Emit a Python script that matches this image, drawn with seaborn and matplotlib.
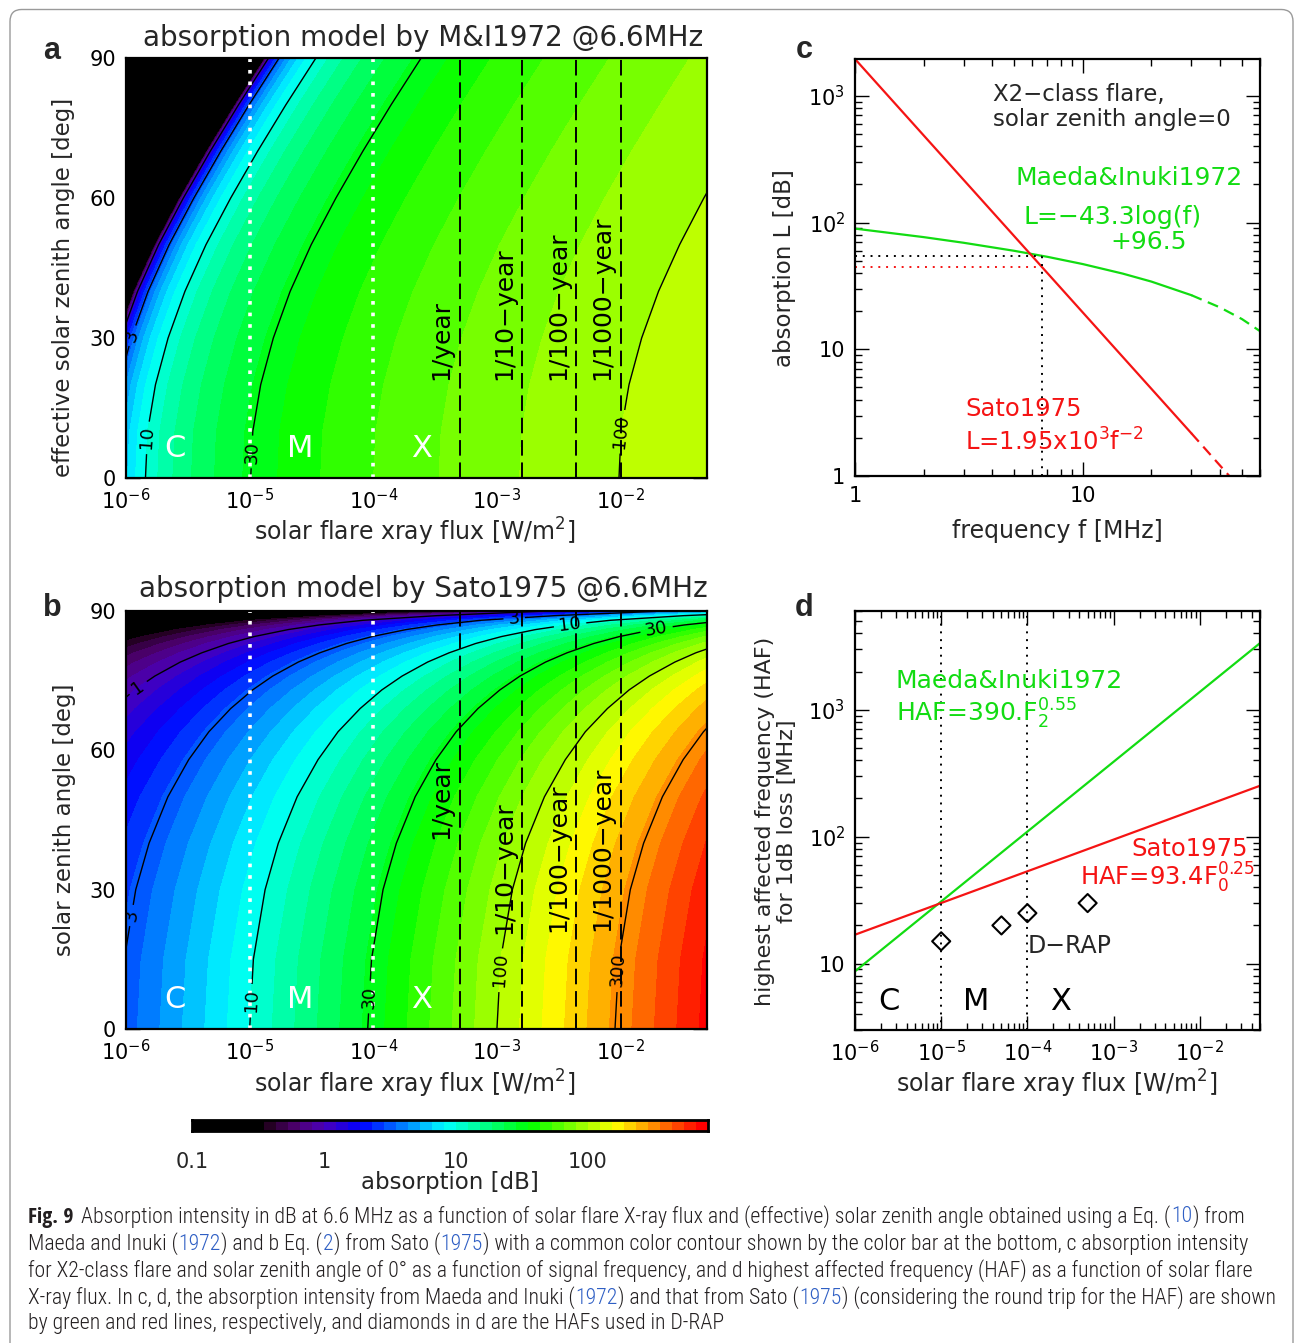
import numpy as np
import matplotlib
matplotlib.use("Agg")
import matplotlib.pyplot as plt
import seaborn as sns
from matplotlib.colors import ListedColormap, BoundaryNorm
from matplotlib.ticker import FixedLocator, FuncFormatter, LogLocator, NullFormatter
from matplotlib.patches import FancyBboxPatch
import matplotlib.transforms as mtransforms

# ------------------------------------------------------------------ data
# panel a : Maeda & Inuki (1972) absorption [dB] at 6.6 MHz (rows: zenith, cols: flux)
flux_grid = [1e-6, 1e-5, 1e-4, 1e-3, 1e-2, 5e-2]
zenith_mi = [0, 10, 20, 30, 40, 50, 60, 70, 80, 90]
absorption_mi = [
    [6.3, 29.8, 53.3, 76.8, 100.3, 116.8],
    [5.9, 29.4, 52.9, 76.4, 99.9, 116.3],
    [4.4, 27.9, 51.4, 74.9, 98.4, 114.8],
    [2.0, 25.5, 49.0, 72.5, 96.0, 112.4],
    [-1.2, 22.3, 45.8, 69.3, 92.8, 109.2],
    [-5.2, 18.3, 41.8, 65.3, 88.8, 105.2],
    [-9.9, 13.6, 37.1, 60.6, 84.1, 100.6],
    [-15.0, 8.5, 32.0, 55.5, 79.0, 95.5],
    [-20.4, 3.1, 26.6, 50.1, 73.6, 90.0],
    [-26.1, -2.6, 20.9, 44.4, 67.9, 84.4],
]
# panel b : Sato (1975) absorption [dB] at 6.6 MHz
zenith_sato = [0, 15, 30, 40, 50, 58, 64, 69, 73, 76, 79, 81, 83, 84.5, 86, 87, 88, 89, 90]
absorption_sato = [
    [3.16, 10.0, 31.6, 100.0, 316.0, 708.0],
    [3.05, 9.66, 30.5, 96.6, 305.0, 684.0],
    [2.74, 8.66, 27.4, 86.6, 274.0, 613.0],
    [2.42, 7.66, 24.2, 76.6, 242.0, 542.0],
    [2.03, 6.43, 20.3, 64.3, 203.0, 455.0],
    [1.67, 5.30, 16.7, 53.0, 167.0, 375.0],
    [1.39, 4.38, 13.9, 43.8, 139.0, 310.0],
    [1.13, 3.58, 11.3, 35.8, 113.0, 254.0],
    [0.924, 2.92, 9.24, 29.2, 92.4, 207.0],
    [0.764, 2.42, 7.64, 24.2, 76.4, 171.0],
    [0.603, 1.91, 6.03, 19.1, 60.3, 135.0],
    [0.494, 1.56, 4.94, 15.6, 49.4, 111.0],
    [0.385, 1.22, 3.85, 12.2, 38.5, 86.3],
    [0.303, 0.958, 3.03, 9.58, 30.3, 67.8],
    [0.221, 0.698, 2.21, 6.98, 22.1, 49.4],
    [0.165, 0.523, 1.65, 5.23, 16.5, 37.0],
    [0.110, 0.349, 1.10, 3.49, 11.0, 24.7],
    [0.055, 0.175, 0.552, 1.75, 5.52, 12.4],
    [0.020, 0.063, 0.20, 0.63, 2.0, 4.5],
]
contour_levels = [1, 3, 10, 30, 100, 300]
class_bounds = [1e-5, 1e-4]
class_names = ["C", "M", "X"]
class_label_flux = [2.5e-6, 2.55e-5, 2.45e-4]
recurrence_flux = [5e-4, 1.6e-3, 4.4e-3, 1e-2]
recurrence_names = ["1/year", "1/10\u2212year", "1/100\u2212year", "1/1000\u2212year"]

# panel c : absorption vs frequency (X2 flare, zenith 0)
freq_mi = [1, 2, 3, 5, 7, 10, 15, 20, 30]
absorb_mi = [89.5, 76.7, 69.2, 59.8, 53.6, 47.0, 39.5, 34.2, 26.7]
freq_mi_ext = [30, 40, 50, 60]
absorb_mi_ext = [26.7, 21.4, 17.3, 13.9]
freq_sato = [1, 30]
absorb_sato = [1950, 2.17]
freq_sato_ext = [30, 44]
absorb_sato_ext = [2.17, 1.0]
f_operating = 6.6
absorb_mi_op = 54.7
absorb_sato_op = 44.8

# panel d : highest affected frequency
flux_line = [1e-6, 5e-2]
haf_mi = [8.7, 3350]
haf_sato = [16.9, 252]
drap_flux = [1e-5, 5e-5, 1e-4, 5e-4]
drap_haf = [15, 20, 25, 30]

# ------------------------------------------------------------------ style
sns.set_theme(style="ticks")
plt.rcParams["font.family"] = ["DejaVu Sans"]
plt.rcParams["mathtext.fontset"] = "dejavusans"
plt.rcParams["axes.unicode_minus"] = True

W, H = 1295, 1343
fig = plt.figure(figsize=(W / 100, H / 100), dpi=100)
fig.patch.set_facecolor("white")

def rect(l, t, r, b):
    return [l / W, 1 - b / H, (r - l) / W, (b - t) / H]

def ftext(x, y, s, **kw):
    return fig.text(x / W, 1 - y / H, s, **kw)

GREEN = "#12dc12"
RED = "#f51414"

# colour table (IDL rainbow+black like), 11 bands per decade from 0.1 dB
levels = 10 ** (-1 + np.arange(44) / 11)
band_mid = -1 + (np.arange(43) + 0.5) / 11
anchor_pos = [-1.0, -0.47, -0.46, -0.2, 0.0, 0.28, 0.92, 1.56, 2.21, 2.85, 3.0]
anchor_r = [0, 0, 0.10, 0.31, 0.29, 0, 0, 0, 1, 1, 1]
anchor_g = [0, 0, 0, 0, 0, 0, 1, 1, 1, 0, 0]
anchor_b = [0, 0, 0.06, 0.45, 0.72, 1, 1, 0, 0, 0, 0]
band_colors = np.column_stack([np.interp(band_mid, anchor_pos, ch)
                               for ch in (anchor_r, anchor_g, anchor_b)])
cmap = ListedColormap(band_colors).with_extremes(under="black", over="red")
norm_db = BoundaryNorm(levels, 43)
norm_log = BoundaryNorm(np.log10(levels), 43)

def box(ax, lw=1.6):
    for s in ax.spines.values():
        s.set_visible(True)
        s.set_linewidth(lw)
        s.set_color("black")
    ax.tick_params(which="both", direction="in", top=True, right=True,
                   colors="black", labelsize=15)
    ax.tick_params(which="major", length=10, width=1.0, pad=7)
    ax.tick_params(which="minor", length=5, width=1.0)

def flux_axis_log10(ax):
    ax.set_xlim(np.log10(1e-6), np.log10(5e-2))
    ax.xaxis.set_major_locator(FixedLocator([-6, -5, -4, -3, -2]))
    minors = [np.log10(k * 10.0 ** n) for n in range(-6, -1) for k in range(2, 10)
              if k * 10.0 ** n < 5e-2]
    ax.xaxis.set_minor_locator(FixedLocator(minors))
    ax.xaxis.set_major_formatter(FuncFormatter(lambda v, p: r"$10^{%d}$" % round(v)))
    ax.set_ylim(0, 90)
    ax.set_yticks([0, 30, 60, 90])
    ax.set_yticks([], minor=True)

def overlays(ax, text_start_angles):
    for fb in class_bounds:
        ax.axvline(np.log10(fb), color="white", lw=2.6, linestyle=(0, (1, 2.2)))
    for fr in recurrence_flux:
        ax.axvline(np.log10(fr), color="black", lw=1.4, linestyle=(0, (8, 3.5)))
    off = mtransforms.offset_copy(ax.transData, fig=fig, x=-6, y=0, units="dots")
    for fr, name, ang in zip(recurrence_flux, recurrence_names, text_start_angles):
        ax.text(np.log10(fr), ang, name, rotation=90, ha="right", va="bottom",
                fontsize=18, color="black", transform=off)
    for fl, name in zip(class_label_flux, class_names):
        ax.text(np.log10(fl), 6.3, name, color="white", fontsize=22,
                ha="center", va="center")

# ------------------------------------------------------------------ panel a
ax_a = fig.add_axes(rect(126, 58, 707, 478))
LXa, LYa = np.meshgrid(np.log10(flux_grid), zenith_mi)
Za = np.array(absorption_mi)
ax_a.contourf(LXa, LYa, Za, levels=levels, cmap=cmap, norm=norm_db, extend="both")
cs_a = ax_a.contour(LXa, LYa, Za, levels=contour_levels, colors="black", linewidths=1.0)
ax_a.clabel(cs_a, fmt=lambda v: f"{v:g}", fontsize=13, inline=True,
            manual=[(-5.95, 30.5), (-5.82, 8.6), (-5.0, 5.6), (-2.05, 10)])
flux_axis_log10(ax_a)
box(ax_a)
overlays(ax_a, [21, 21, 21, 21])

# ------------------------------------------------------------------ panel b
ax_b = fig.add_axes(rect(126, 611, 707, 1029))
LXb, LYb = np.meshgrid(np.log10(flux_grid), zenith_sato)
Zb = np.log10(np.array(absorption_sato))
ax_b.contourf(LXb, LYb, Zb, levels=np.log10(levels), cmap=cmap, norm=norm_log, extend="both")
cs_b = ax_b.contour(LXb, LYb, Zb, levels=np.log10(contour_levels), colors="black", linewidths=1.0)
ax_b.clabel(cs_b, fmt=lambda v: f"{10 ** v:.0f}", fontsize=13, inline=True,
            manual=[(-5.89, 73), (-5.97, 24.5), (-2.86, 88.3), (-5.0, 6.2), (-2.41, 87.4),
                    (-4.04, 6.9), (-1.71, 86.2), (-3.0, 12.7), (-2.03, 12.7)])
flux_axis_log10(ax_b)
box(ax_b)
overlays(ax_b, [40.9, 20.4, 20.8, 21])

# ------------------------------------------------------------------ panel c
ax_c = fig.add_axes(rect(855, 59, 1260, 476))
ax_c.set_xscale("log")
ax_c.set_yscale("log")
sns.lineplot(x=freq_mi, y=absorb_mi, ax=ax_c, color=GREEN, lw=1.6, sort=False, estimator=None)
sns.lineplot(x=freq_mi_ext, y=absorb_mi_ext, ax=ax_c, color=GREEN, lw=1.6,
             linestyle=(0, (5, 3)), sort=False, estimator=None)
sns.lineplot(x=freq_sato, y=absorb_sato, ax=ax_c, color=RED, lw=1.6, sort=False, estimator=None)
sns.lineplot(x=freq_sato_ext, y=absorb_sato_ext, ax=ax_c, color=RED, lw=1.6,
             linestyle=(0, (5, 3)), sort=False, estimator=None)
sns.lineplot(x=[1, f_operating], y=[absorb_mi_op, absorb_mi_op], ax=ax_c, color="black",
             lw=1.4, linestyle=(0, (1, 3)), sort=False, estimator=None)
sns.lineplot(x=[1, f_operating], y=[absorb_sato_op, absorb_sato_op], ax=ax_c, color=RED,
             lw=1.4, linestyle=(0, (1, 3)), sort=False, estimator=None)
sns.lineplot(x=[f_operating, f_operating], y=[1, absorb_mi_op], ax=ax_c, color="black",
             lw=1.4, linestyle=(0, (1, 3)), sort=False, estimator=None)
ax_c.set_xlim(1, 60)
ax_c.set_ylim(1, 1950)
ax_c.xaxis.set_major_locator(FixedLocator([1, 10]))
ax_c.xaxis.set_minor_locator(LogLocator(base=10, subs=np.arange(2, 10), numticks=20))
ax_c.xaxis.set_major_formatter(FuncFormatter(lambda v, p: f"{v:g}"))
ax_c.xaxis.set_minor_formatter(NullFormatter())
ax_c.yaxis.set_major_locator(FixedLocator([1, 10, 100, 1000]))
ax_c.yaxis.set_minor_locator(LogLocator(base=10, subs=np.arange(2, 10), numticks=20))
ax_c.yaxis.set_major_formatter(FuncFormatter(
    lambda v, p: f"{v:g}" if v < 50 else r"$10^{%d}$" % round(np.log10(v))))
ax_c.yaxis.set_minor_formatter(NullFormatter())
ax_c.set_xlabel("")
ax_c.set_ylabel("")
box(ax_c)

# ------------------------------------------------------------------ panel d
ax_d = fig.add_axes(rect(855, 611, 1260, 1030))
ax_d.set_xscale("log")
ax_d.set_yscale("log")
sns.lineplot(x=flux_line, y=haf_mi, ax=ax_d, color=GREEN, lw=1.6, sort=False, estimator=None)
sns.lineplot(x=flux_line, y=haf_sato, ax=ax_d, color=RED, lw=1.6, sort=False, estimator=None)
sns.scatterplot(x=drap_flux, y=drap_haf, ax=ax_d, marker="D", s=85,
                facecolor="none", edgecolor="black", linewidth=1.5, zorder=5)
for fb in class_bounds:
    ax_d.axvline(fb, color="black", lw=1.4, linestyle=(0, (1, 3)))
ax_d.set_xlim(1e-6, 5e-2)
ax_d.set_ylim(3, 6000)
ax_d.xaxis.set_major_locator(FixedLocator([1e-6, 1e-5, 1e-4, 1e-3, 1e-2]))
ax_d.xaxis.set_minor_locator(LogLocator(base=10, subs=np.arange(2, 10), numticks=30))
ax_d.xaxis.set_major_formatter(FuncFormatter(lambda v, p: r"$10^{%d}$" % round(np.log10(v))))
ax_d.xaxis.set_minor_formatter(NullFormatter())
ax_d.yaxis.set_major_locator(FixedLocator([10, 100, 1000]))
ax_d.yaxis.set_minor_locator(LogLocator(base=10, subs=np.arange(2, 10), numticks=20))
ax_d.yaxis.set_major_formatter(FuncFormatter(
    lambda v, p: f"{v:g}" if v < 50 else r"$10^{%d}$" % round(np.log10(v))))
ax_d.yaxis.set_minor_formatter(NullFormatter())
ax_d.set_xlabel("")
ax_d.set_ylabel("")
for fl, name in zip(class_label_flux, class_names):
    ax_d.text(fl, 5.0, name, color="black", fontsize=22, ha="center", va="center")
box(ax_d)

# ------------------------------------------------------------------ colour bar
cax = fig.add_axes(rect(192, 1120, 708, 1131))
band_values = np.sqrt(levels[:-1] * levels[1:])
cax.pcolormesh(np.log10(levels), [0, 1], band_values[None, :], cmap=cmap, norm=norm_db)
cax.set_xlim(np.log10(levels[0]), np.log10(levels[-1]))
cax.set_ylim(0, 1)
cax.set_yticks([])
cax.set_xticks([-1, 0, 1, 2])
cax.set_xticklabels(["0.1", "1", "10", "100"])
cax.tick_params(axis="x", length=0, pad=15, labelsize=15)
for s in cax.spines.values():
    s.set_linewidth(2)
    s.set_color("black")

# ------------------------------------------------------------------ texts
ftext(423, 46.5, "absorption model by M&I1972 @6.6MHz", ha="center", va="baseline", fontsize=20)
ftext(423, 597, "absorption model by Sato1975 @6.6MHz", ha="center", va="baseline", fontsize=20)
ftext(64, 287, "effective solar zenith angle [deg]", rotation=90, ha="center", va="center", fontsize=16.5)
ftext(65, 820, "solar zenith angle [deg]", rotation=90, ha="center", va="center", fontsize=16.5)
ftext(415, 532, r"solar flare xray flux [W/m$^2$]", ha="center", va="center", fontsize=17)
ftext(415, 1084, r"solar flare xray flux [W/m$^2$]", ha="center", va="center", fontsize=17)
ftext(785, 268, "absorption L [dB]", rotation=90, ha="center", va="center", fontsize=16.5)
ftext(1057, 531, "frequency f [MHz]", ha="center", va="center", fontsize=17)
ftext(765, 821, "highest affected frequency (HAF)", rotation=90, ha="center", va="center", fontsize=16)
ftext(787, 821, "for 1dB loss [MHz]", rotation=90, ha="center", va="center", fontsize=16)
ftext(1057, 1084, r"solar flare xray flux [W/m$^2$]", ha="center", va="center", fontsize=17)
ftext(450, 1183, "absorption [dB]", ha="center", va="center", fontsize=16.5)

# panel c annotations
ftext(993, 101, "X2\u2212class flare,", fontsize=16.5, va="baseline")
ftext(993, 126, "solar zenith angle=0", fontsize=16.5, va="baseline")
ftext(1015, 185, "Maeda&Inuki1972", fontsize=18, color=GREEN, va="baseline")
ftext(1024, 224, "L=\u221243.3log(f)", fontsize=18, color=GREEN, va="baseline")
ftext(1110, 249, "+96.5", fontsize=18, color=GREEN, va="baseline")
ftext(965, 416, "Sato1975", fontsize=17.5, color=RED, va="baseline")
ftext(965, 451, r"L=1.95x10$^3$f$^{-2}$", fontsize=17.5, color=RED, va="baseline")
# panel d annotations
ftext(896, 688, "Maeda&Inuki1972", fontsize=18, color=GREEN, va="baseline")
ftext(896, 722, r"HAF=390.F$_2^{0.55}$", fontsize=18, color=GREEN, va="baseline")
ftext(1131, 856, "Sato1975", fontsize=17.5, color=RED, va="baseline")
ftext(1080, 886, r"HAF=93.4F$_0^{0.25}$", fontsize=17.5, color=RED, va="baseline")
ftext(1028, 953, "D\u2212RAP", fontsize=17, va="baseline")

# panel letters
for (x, y, s) in [(52, 59, "a"), (52, 616, "b"), (804, 58, "c"), (804, 616, "d")]:
    ftext(x, y, s, fontsize=22, fontweight="bold", family=["Liberation Sans", "DejaVu Sans"],
          ha="center", va="baseline")

# ------------------------------------------------------------------ caption
cap_family = ["Open Sans Condensed Light", "Roboto Condensed", "DejaVu Sans Condensed",
              "Liberation Sans Narrow", "Noto Sans", "DejaVu Sans"]
bold_family = ["Open Sans Condensed", "Roboto Condensed", "DejaVu Sans Condensed",
               "Liberation Sans Narrow", "Noto Sans", "DejaVu Sans"]
CAP = "#231f20"
LINK = "#2f5fc4"
N = "light"
caption = [
    [("Fig. 9", CAP, "bold"),
     ("Absorption intensity in dB at 6.6 MHz as a function of solar flare X-ray flux and (effective) solar zenith angle obtained using a Eq. (", CAP, N),
     ("10", LINK, N), (") from", CAP, N)],
    [("Maeda and Inuki (", CAP, N), ("1972", LINK, N), (") and b Eq. (", CAP, N),
     ("2", LINK, N), (") from Sato (", CAP, N), ("1975", LINK, N),
     (") with a common color contour shown by the color bar at the bottom, c absorption intensity", CAP, N)],
    [("for X2-class flare and solar zenith angle of 0\u00b0 as a function of signal frequency, and d highest affected frequency (HAF) as a function of solar flare", CAP, N)],
    [("X-ray flux. In c, d, the absorption intensity from Maeda and Inuki (", CAP, N), ("1972", LINK, N),
     (") and that from Sato (", CAP, N), ("1975", LINK, N),
     (") (considering the round trip for the HAF) are shown", CAP, N)],
    [("by green and red lines, respectively, and diamonds in d are the HAFs used in D-RAP", CAP, N)],
]
renderer = fig.canvas.get_renderer()
probe = fig.text(0, 0, "".join(p[0] for p in caption[0]) + "  ", fontsize=10,
                 family=cap_family, fontweight=N)
pw = probe.get_window_extent(renderer).width
probe.remove()
cap_size = 10 * 1215 / pw
line_y = [1217, 1244, 1271, 1298, 1324]
for segs, y in zip(caption, line_y):
    x = 28
    for i, (s, col, wgt) in enumerate(segs):
        fam = bold_family if wgt == "bold" else cap_family
        t = ftext(x, y, s, fontsize=cap_size, color=col, fontweight=wgt, family=fam,
                  ha="left", va="center")
        bb = t.get_window_extent(renderer)
        x = bb.x1 + (8 if wgt == "bold" else 0.5)

# outer rounded frame
frame = FancyBboxPatch((10 / W, 1 - 1370 / H), (1293 - 10) / W, (1370 - 9.5) / H,
                       boxstyle="round,pad=0,rounding_size=0.009", transform=fig.transFigure,
                       edgecolor="#9a9a9a", facecolor="none", linewidth=1.0)
fig.add_artist(frame)

fig.savefig("out.png", dpi=100)
